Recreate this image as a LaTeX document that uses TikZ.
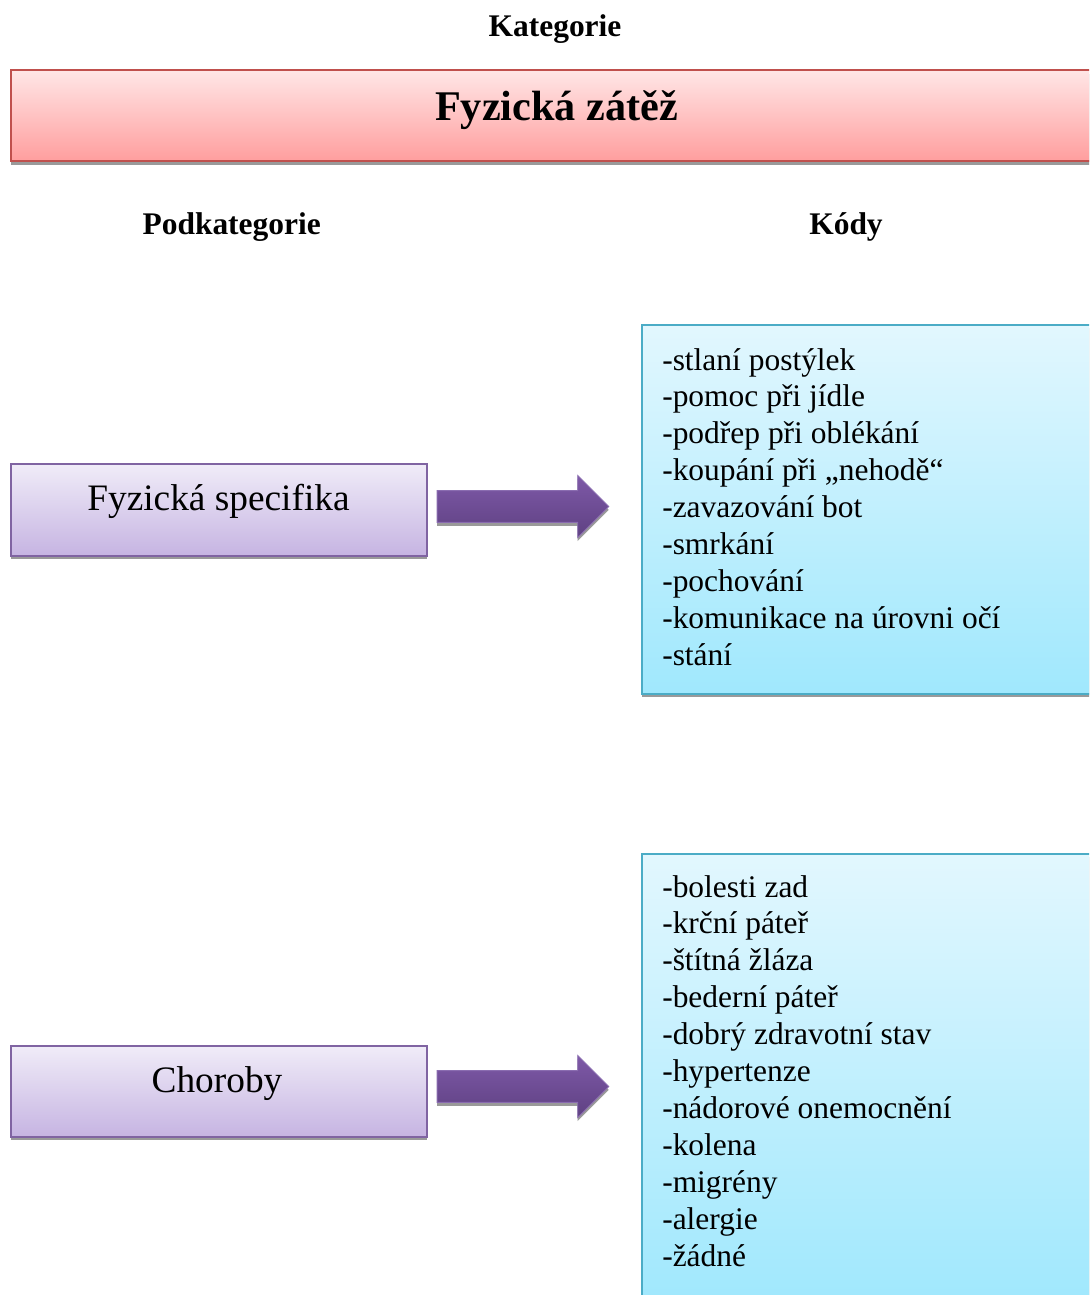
\documentclass[tikz,border=0pt]{standalone}
\usepackage{fontspec}
\setmainfont{Liberation Serif}
\usetikzlibrary{shapes.arrows,shadows}
\definecolor{redline}{HTML}{C0504D}
\definecolor{redtop}{HTML}{FFE6E6}
\definecolor{redbot}{HTML}{FF9E9E}
\definecolor{purline}{HTML}{8064A2}
\definecolor{purtop}{HTML}{F0ECF8}
\definecolor{purbot}{HTML}{C6B4E2}
\definecolor{arrline}{HTML}{8A6CB0}
\definecolor{arrtop}{HTML}{7E59A8}
\definecolor{arrbot}{HTML}{5F4182}
\definecolor{cyanline}{HTML}{4BACC6}
\definecolor{cyantop}{HTML}{E2F7FE}
\definecolor{cyanbot}{HTML}{A0E8FD}
\definecolor{shadowgray}{HTML}{9A9A9A}
\begin{document}
\begin{tikzpicture}[x=0.75pt,y=-0.75pt,
  shadowed/.style={drop shadow={shadow xshift=0pt,shadow yshift=-2.6pt,fill=shadowgray,opacity=1}},
  catbox/.style={rectangle,draw=redline,line width=1.3pt,top color=redtop,bottom color=redbot,anchor=north west,inner sep=0pt,shadowed},
  subbox/.style={rectangle,draw=purline,line width=1.2pt,top color=purtop,bottom color=purbot,anchor=north west,inner sep=0pt,shadowed},
  codebox/.style={rectangle,draw=cyanline,line width=1.2pt,top color=cyantop,bottom color=cyanbot,anchor=north west,inner sep=0pt,shadowed},
  bigarrow/.style={single arrow,single arrow head extend=11.4pt,inner ysep=11.6pt,inner xsep=0pt,minimum height=128.7pt,draw=arrline,line width=0.6pt,top color=arrtop,bottom color=arrbot,shadowed},
  headtext/.style={anchor=base,inner sep=0pt,font=\fontsize{23.6pt}{28pt}\selectfont\bfseries},
  titletext/.style={anchor=base,inner sep=0pt,font=\fontsize{31.7pt}{38pt}\selectfont\bfseries},
  subtext/.style={anchor=base,inner sep=0pt,font=\fontsize{28pt}{33pt}\selectfont},
  codetext/.style={anchor=base west,inner sep=0pt,font=\fontsize{23.6pt}{27.7pt}\selectfont}
]
\useasboundingbox (0,0) rectangle (1089,1295);
\clip (0,0) rectangle (1089,1295);

\node[headtext] (kat) at (555,37) {Kategorie};
\node[catbox,minimum width=817.5pt,minimum height=68pt] (cat) at (10,69.5) {};
\node[titletext] (cattext) at (556.5,120) {Fyzická zátěž};

\node[headtext] (podk) at (231.7,234) {Podkategorie};
\node[headtext] (kody) at (846,234) {Kódy};

\node[subbox,minimum width=312pt,minimum height=69pt] (sub1) at (10,463) {};
\node[subtext] (sub1t) at (218.5,510) {Fyzická specifika};
\node[bigarrow] (arr1) at (515,506.5) {};
\node[codebox,minimum width=344.25pt,minimum height=276.75pt] (code1) at (641,324) {};
\node[codetext] (code1t) at (662,370) {\begin{tabular}[t]{@{}l@{}}
-stlaní postýlek\\
-pomoc při jídle\\
-podřep při oblékání\\
-koupání při „nehodě“\\
-zavazování bot\\
-smrkání\\
-pochování\\
-komunikace na úrovni očí\\
-stání
\end{tabular}};

\node[subbox,minimum width=312pt,minimum height=68.25pt] (sub2) at (10,1045) {};
\node[subtext] (sub2t) at (217,1092) {Choroby};
\node[bigarrow] (arr2) at (515,1086.5) {};
\node[codebox,minimum width=344.25pt,minimum height=337.5pt] (code2) at (641,853) {};
\node[codetext] (code2t) at (662,897) {\begin{tabular}[t]{@{}l@{}}
-bolesti zad\\
-krční páteř\\
-štítná žláza\\
-bederní páteř\\
-dobrý zdravotní stav\\
-hypertenze\\
-nádorové onemocnění\\
-kolena\\
-migrény\\
-alergie\\
-žádné
\end{tabular}};
\end{tikzpicture}
\end{document}
